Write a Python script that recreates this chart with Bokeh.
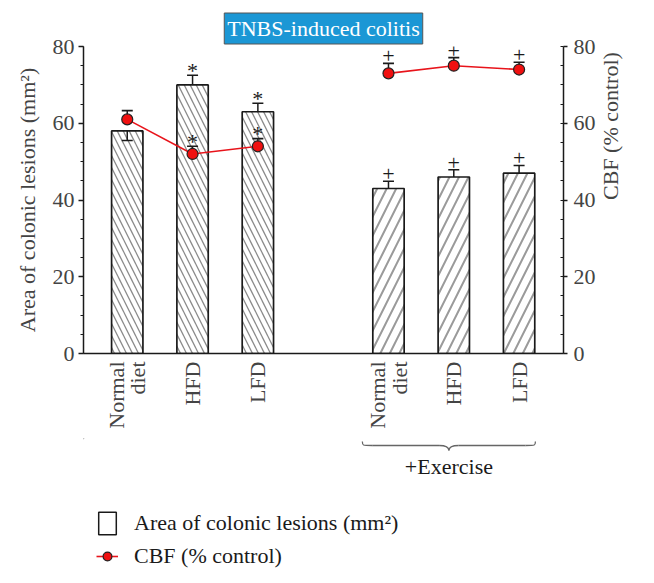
import numpy as np
from bokeh.plotting import figure
from bokeh.models import (Range1d, LinearAxis, FixedTicker, ColumnDataSource, Whisker,
                          TeeHead, Legend, LegendItem)
from bokeh.layouts import column
from bokeh.embed import file_html
from bokeh.resources import INLINE
from bokeh.core.properties import value

# ---------------- data ----------------
categories = ["Normal diet", "HFD", "LFD", "Normal diet", "HFD", "LFD"]
tick_labels = ["Normal\ndiet", "HFD", "LFD", "Normal\ndiet", "HFD", "LFD"]
groups = ["TNBS", "TNBS", "TNBS", "+Exercise", "+Exercise", "+Exercise"]
group_names = ["TNBS", "+Exercise"]
lesion_area = [58, 70, 63, 43, 46, 47]
lesion_err = [2.5, 2.5, 2.2, 1.9, 1.9, 2.0]
lesion_err_side = [-1, 1, 1, 1, 1, 1]
lesion_sig = ["", "*", "*", "+", "+", "+"]
cbf = [61, 52, 54, 73, 75, 74]
cbf_err = [2.3, 2.0, 2.0, 2.6, 2.1, 1.9]
cbf_sig = ["", "*", "*", "+", "+", "+"]
y_ticks = [0, 20, 40, 60, 80]
minor_ticks = list(range(0, 81, 5))

FONT = "Liberation Serif"
FS = "22px"
INK = "#1a1a1a"
RED = "#e8141b"

# x positions: one empty slot between the two groups
xpos = [i + group_names.index(g) for i, g in enumerate(groups)]

hatch_style = {
    "TNBS": dict(pattern="\\", color="#8a8a8a", scale=12, weight=1.3),
    "+Exercise": dict(pattern="/", color="#9a9a9a", scale=19, weight=2.0),
}
sig_offset = {"*": -5, "+": -7}

# ---------------- main figure ----------------
p = figure(width=638, height=438, x_range=Range1d(-0.67, 6.68), y_range=Range1d(0, 80),
           output_backend="svg", toolbar_location=None,
           min_border_left=83, min_border_right=71, min_border_top=46, min_border_bottom=85,
           x_axis_type=None, y_axis_type=None, outline_line_color=None,
           title="TNBS-induced colitis")
p.extra_y_ranges = {"cbf": Range1d(0, 80)}

p.title.align = "center"
p.title.text_font = FONT
p.title.text_font_style = "normal"
p.title.text_font_size = FS
p.title.text_color = "white"
p.title.background_fill_color = "#1b97d5"
p.title.border_line_color = "#555555"
p.title.standoff = 5
try:
    p.title.padding = 3
except Exception:
    pass

def style_axis(ax):
    ax.axis_label_text_font = FONT
    ax.axis_label_text_font_style = "normal"
    ax.axis_label_text_font_size = FS
    ax.major_label_text_font = FONT
    ax.major_label_text_font_size = FS
    ax.axis_line_color = INK
    ax.axis_line_width = 1.5
    ax.major_tick_line_color = INK
    ax.minor_tick_line_color = INK
    ax.major_tick_line_width = 1.3
    ax.minor_tick_line_width = 1.0

yl = LinearAxis(axis_label="Area of colonic lesions (mm²)",
                ticker=FixedTicker(ticks=y_ticks, minor_ticks=minor_ticks))
style_axis(yl)
yl.major_tick_out = 5
yl.major_tick_in = 0
yl.minor_tick_out = 3
yl.minor_tick_in = 0
yl.axis_label_standoff = 10
yl.major_label_standoff = 4
p.add_layout(yl, "left")

yr = LinearAxis(y_range_name="cbf", axis_label="CBF (% control)",
                ticker=FixedTicker(ticks=y_ticks, minor_ticks=minor_ticks))
style_axis(yr)
yr.major_tick_out = 4
yr.major_tick_in = 0
yr.minor_tick_out = 0
yr.minor_tick_in = 3
yr.axis_label_standoff = 12
yr.major_label_standoff = 6
yr.axis_label_orientation = np.pi / 2
p.add_layout(yr, "right")

xb = LinearAxis(ticker=FixedTicker(ticks=xpos, minor_ticks=[]),
                major_label_overrides={x: lab for x, lab in zip(xpos, tick_labels)})
style_axis(xb)
xb.major_tick_out = 0
xb.major_tick_in = 0
xb.minor_tick_out = 0
xb.major_label_orientation = np.pi / 2
xb.major_label_standoff = 8
xb.major_label_text_line_height = 0.85
p.add_layout(xb, "below")

# bars
bar_src = ColumnDataSource(dict(
    x=xpos, top=lesion_area,
    hatch=[hatch_style[g]["pattern"] for g in groups],
    hcolor=[hatch_style[g]["color"] for g in groups],
    hscale=[hatch_style[g]["scale"] for g in groups],
    hweight=[hatch_style[g]["weight"] for g in groups],
))
p.vbar(x="x", top="top", width=0.48, source=bar_src, fill_color="white",
       line_color=INK, line_width=1.7, hatch_pattern="hatch", hatch_color="hcolor",
       hatch_scale="hscale", hatch_weight="hweight")

# bar error bars
up_idx = [i for i, s in enumerate(lesion_err_side) if s > 0]
dn_idx = [i for i, s in enumerate(lesion_err_side) if s < 0]
up_src = ColumnDataSource(dict(x=[xpos[i] for i in up_idx],
                               lo=[lesion_area[i] for i in up_idx],
                               hi=[lesion_area[i] + lesion_err[i] for i in up_idx]))
dn_src = ColumnDataSource(dict(x=[xpos[i] for i in dn_idx],
                               lo=[lesion_area[i] - lesion_err[i] for i in dn_idx],
                               hi=[lesion_area[i] for i in dn_idx]))
w_up = Whisker(source=up_src, base="x", lower="lo", upper="hi", dimension="height",
               line_color=INK, line_width=1.5, level="annotation",
               upper_head=TeeHead(size=11, line_width=1.6, line_color=INK), lower_head=None)
w_dn = Whisker(source=dn_src, base="x", lower="lo", upper="hi", dimension="height",
               line_color=INK, line_width=1.5, level="annotation",
               lower_head=TeeHead(size=11, line_width=1.6, line_color=INK), upper_head=None)
p.add_layout(w_up)
p.add_layout(w_dn)

# CBF error bars
cbf_src = ColumnDataSource(dict(x=xpos, lo=cbf, hi=[c + e for c, e in zip(cbf, cbf_err)]))
w_cbf = Whisker(source=cbf_src, base="x", lower="lo", upper="hi", dimension="height",
                y_range_name="cbf", line_color=INK, line_width=1.5, level="annotation",
                upper_head=TeeHead(size=11, line_width=1.6, line_color=INK), lower_head=None)
p.add_layout(w_cbf)

# significance marks
for sym, off in sig_offset.items():
    bi = [i for i in up_idx if lesion_sig[i] == sym]
    p.text(x=[xpos[i] for i in bi], y=[lesion_area[i] + lesion_err[i] for i in bi],
           text=[sym] * len(bi), text_font=value(FONT), text_font_size=FS,
           text_align="center", text_baseline="middle", y_offset=off, text_color=INK)
    ci = [i for i in range(len(cbf)) if cbf_sig[i] == sym]
    p.text(x=[xpos[i] for i in ci], y=[cbf[i] + cbf_err[i] for i in ci],
           text=[sym] * len(ci), y_range_name="cbf", text_font=value(FONT),
           text_font_size=FS, text_align="center", text_baseline="middle", y_offset=off,
           text_color=INK)

# CBF lines (one per group) and points
for g in group_names:
    idx = [i for i, gg in enumerate(groups) if gg == g]
    r = p.line([xpos[i] for i in idx], [cbf[i] for i in idx], y_range_name="cbf",
               line_color=RED, line_width=1.6)
    r.level = "overlay"
rp = p.scatter(xpos, cbf, y_range_name="cbf", size=11, fill_color="#f01010",
               line_color="#222222", line_width=1.2)
rp.level = "overlay"

# ---------------- lower panel: brace, group label, legend ----------------
H2 = 135
q = figure(width=638, height=H2, x_range=p.x_range, y_range=Range1d(H2, 0),
           output_backend="svg", toolbar_location=None,
           min_border_left=83, min_border_right=71, min_border_top=0, min_border_bottom=0,
           x_axis_type=None, y_axis_type=None, outline_line_color=None)

ex_x = [xpos[i] for i, g in enumerate(groups) if g == "+Exercise"]
s = min(ex_x) - 0.4
e = max(ex_x) + 0.25
m = (s + e) / 2
top_y, flat_y, tip_y = 3, 7, 12
d = 0.15
# left curl, left flat, left tip half, right tip half, right flat, right curl
q.bezier(x0=[s, s + d, m - d, m + d, m + d, e - d],
         y0=[top_y, flat_y, flat_y, flat_y, flat_y, flat_y],
         x1=[s + d, m - d, m, m, e - d, e],
         y1=[flat_y, flat_y, tip_y, tip_y, flat_y, top_y],
         cx0=[s, s + d, m - 0.03, m + 0.03, m + d, e],
         cy0=[flat_y, flat_y, flat_y, flat_y, flat_y, flat_y],
         cx1=[s, m - d, m, m, e - d, e],
         cy1=[flat_y, flat_y, 9, 9, flat_y, flat_y],
         line_color="#666666", line_width=1.3)
q.text(x=[m], y=[28], text=["+Exercise"], text_font=value(FONT), text_font_size=FS,
       text_align="center", text_baseline="middle", text_color=INK)

# legend proxies (placed far outside the visible ranges)
r_bar = q.vbar(x=[-50], top=[-60], bottom=[-70], width=0.5, fill_color="white",
               line_color=INK, line_width=1.5)
r_line = q.line(x=[-50, -49], y=[-60, -60], line_color=RED, line_width=1.6)
r_pt = q.scatter(x=[-50], y=[-60], size=10, fill_color="#f01010", line_color="#222222",
                 line_width=1.2)
legend = Legend(items=[LegendItem(label="Area of colonic lesions (mm²)", renderers=[r_bar]),
                       LegendItem(label="CBF (% control)", renderers=[r_line, r_pt])],
                location=(13, 3), padding=0, margin=0, spacing=5,
                glyph_width=22, glyph_height=28, label_height=22, label_standoff=16,
                label_text_font=FONT, label_text_font_size=FS, label_text_color=INK,
                border_line_color=None, background_fill_color=None)
q.add_layout(legend)

layout = column(p, q)
open("out.html", "w").write(file_html(layout, INLINE))
